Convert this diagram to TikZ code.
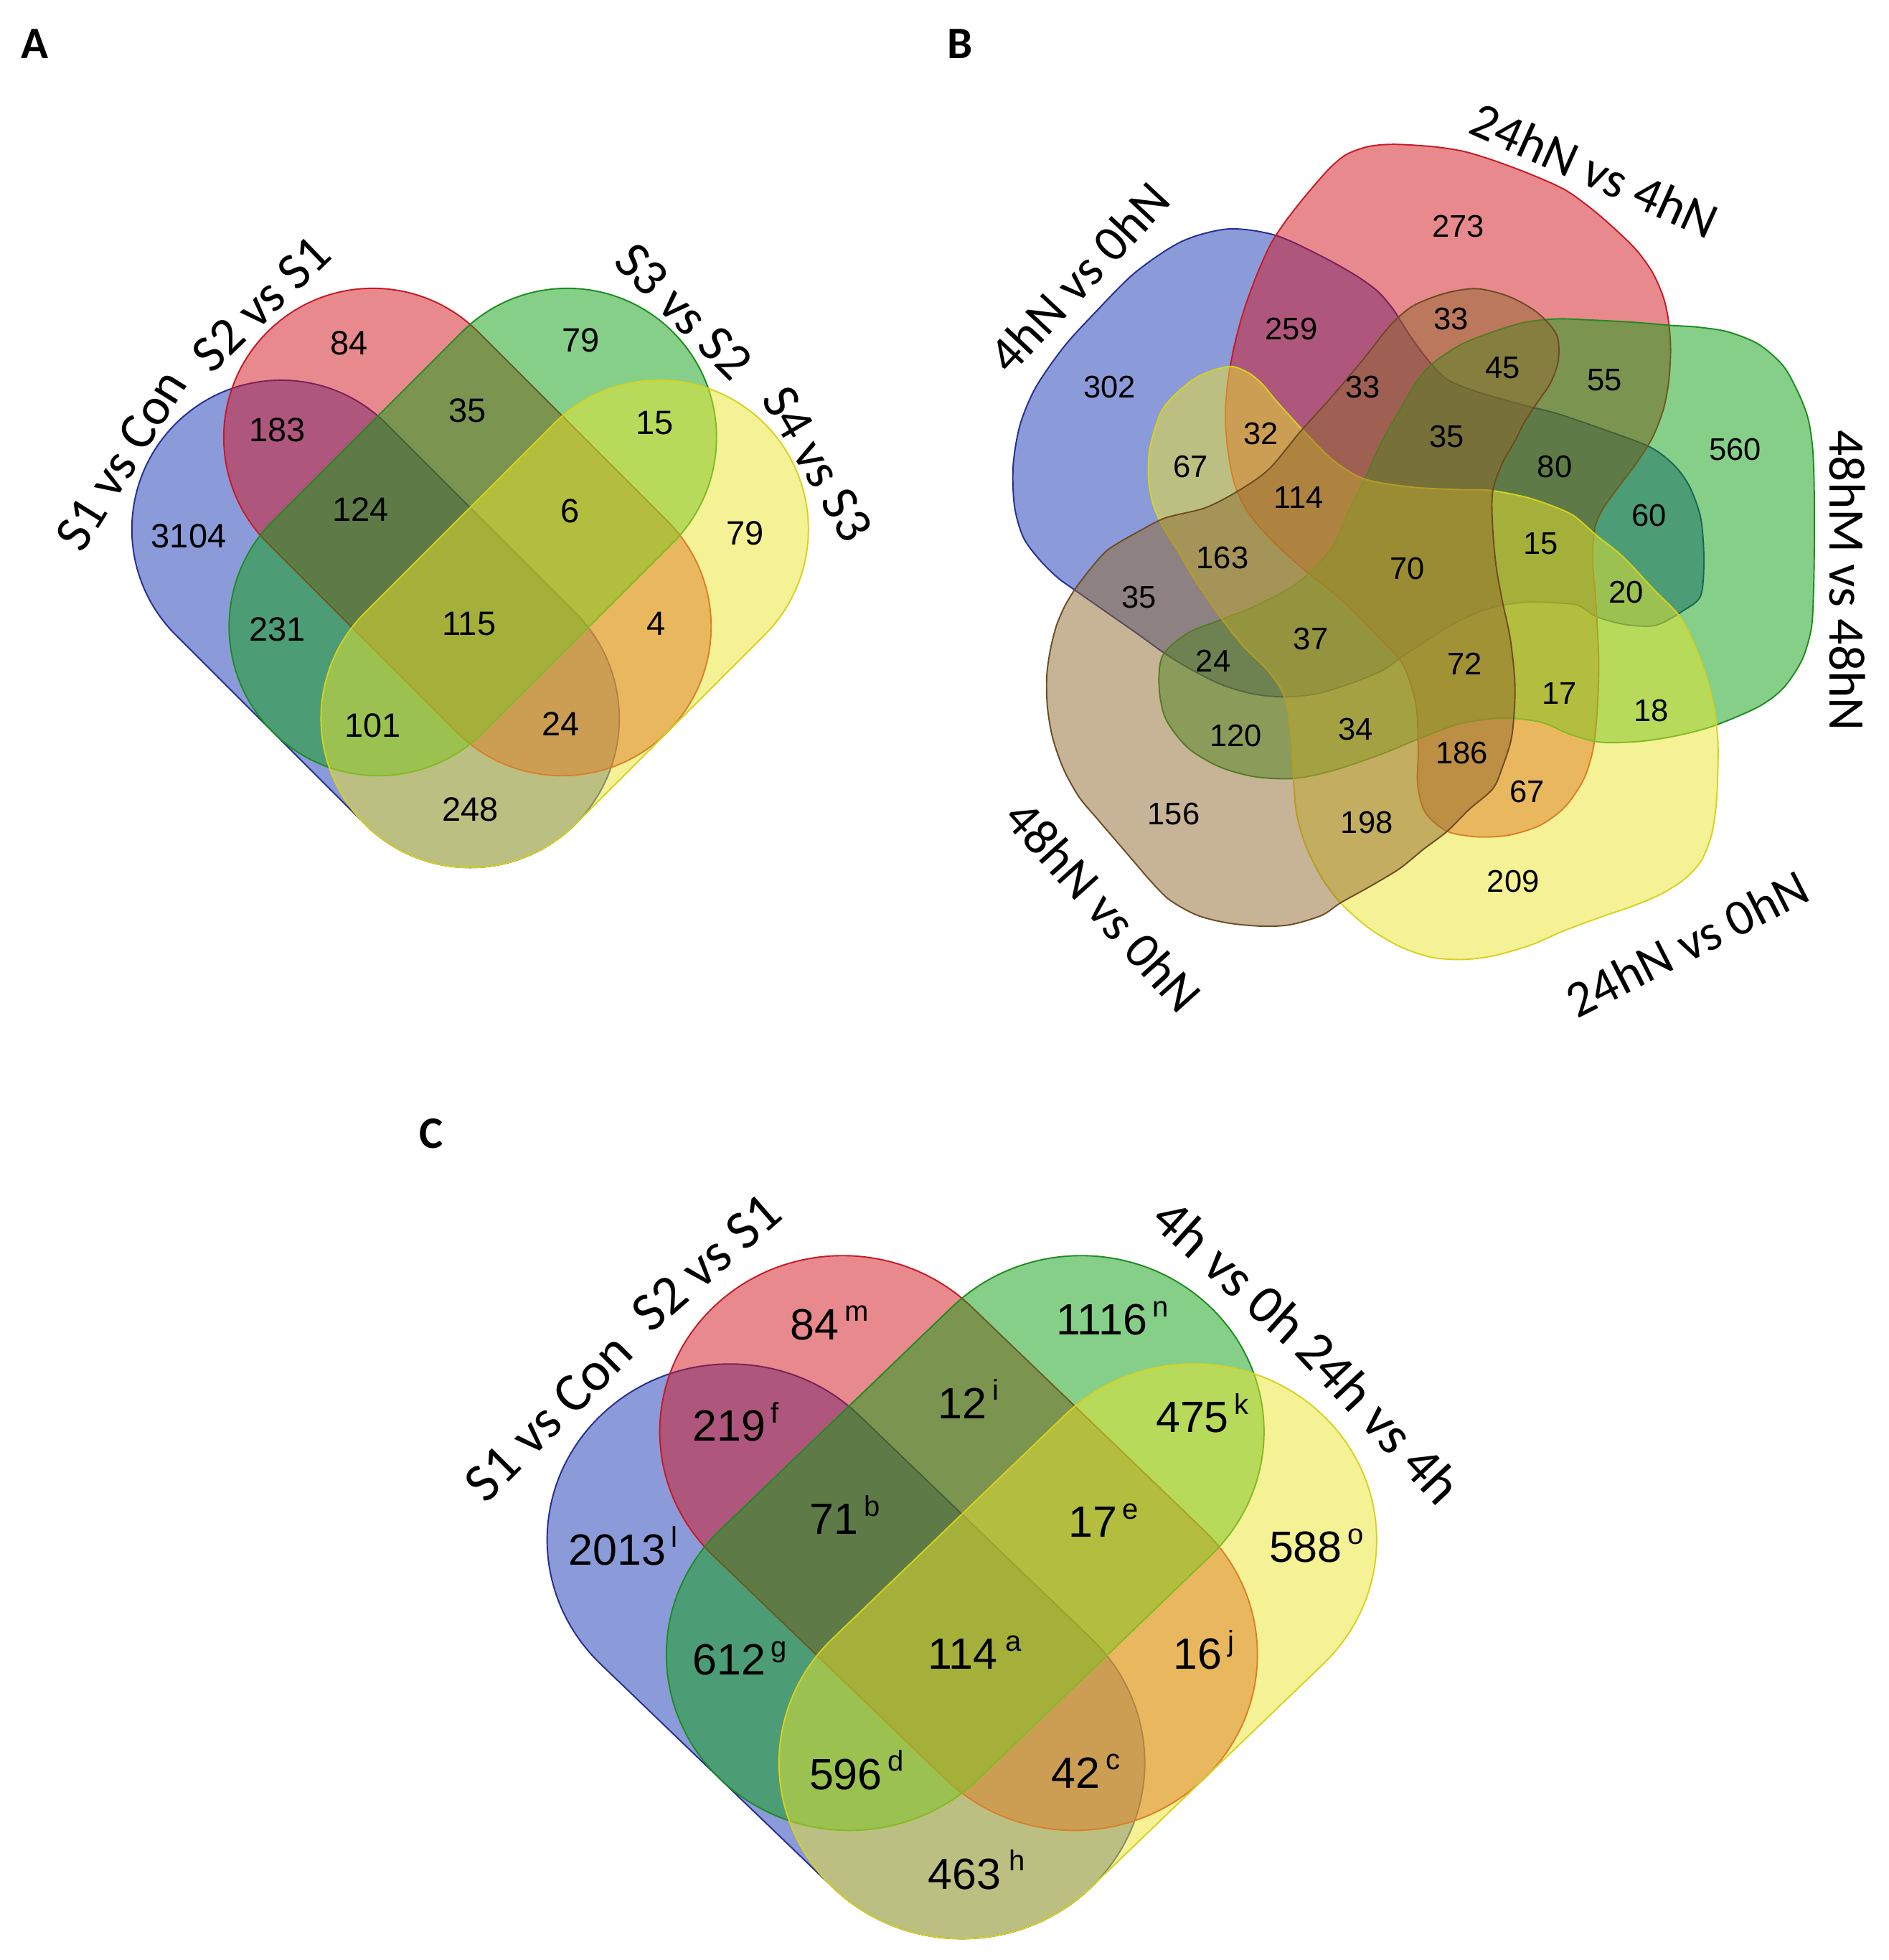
\documentclass[tikz,border=0pt]{standalone}
\usepackage{fontspec}
\setmainfont{Liberation Sans}
\newfontfamily\lblfont{Carlito}
\definecolor{vblue}{RGB}{25,55,180}
\definecolor{vblueD}{RGB}{35,45,150}
\definecolor{vred}{RGB}{210,20,30}
\definecolor{vredD}{RGB}{200,25,35}
\definecolor{vgreen}{RGB}{15,160,20}
\definecolor{vgreenD}{RGB}{30,140,30}
\definecolor{vyellow}{RGB}{235,230,45}
\definecolor{vyellowD}{RGB}{215,210,30}
\definecolor{vbrown}{RGB}{145,105,45}
\definecolor{vbrownD}{RGB}{110,75,35}
\tikzset{
  setblue/.style={fill=vblue, fill opacity=0.5, draw=vblueD, line width=1.1pt},
  setred/.style={fill=vred, fill opacity=0.5, draw=vredD, line width=1.1pt},
  setgreen/.style={fill=vgreen, fill opacity=0.5, draw=vgreenD, line width=1.1pt},
  setyellow/.style={fill=vyellow, fill opacity=0.5, draw=vyellowD, line width=1.1pt},
  setbrown/.style={fill=vbrown, fill opacity=0.5, draw=vbrownD, line width=1.1pt},
  numA/.style={font=\fontsize{27pt}{27pt}\selectfont, inner sep=0pt},
  numB/.style={font=\fontsize{25pt}{25pt}\selectfont, inner sep=0pt},
  numC/.style={font=\fontsize{35pt}{35pt}\selectfont, inner sep=0pt},
  supC/.style={font=\fontsize{23pt}{23pt}\selectfont, inner sep=0pt, anchor=base west},
  lblA/.style={font=\lblfont\fontsize{42pt}{42pt}\selectfont, inner sep=0pt},
  lblB/.style={font=\lblfont\fontsize{41pt}{41pt}\selectfont, inner sep=0pt},
  lblC/.style={font=\lblfont\fontsize{44pt}{44pt}\selectfont, inner sep=0pt},
  panel/.style={font=\lblfont\bfseries\fontsize{36pt}{36pt}\selectfont, inner sep=0pt},
  stadA/.style={rounded corners=119.3pt},
  stadC/.style={rounded corners=143.4pt}
}
\newcommand{\stadpath}{(-226.3,-119.3) -- (226.3,-119.3) -- (226.3,119.3) -- (-226.3,119.3) -- cycle}
\begin{document}
\begin{tikzpicture}[x=1pt,y=-1pt]
\useasboundingbox (0,0) rectangle (1511,1568);
\fill[white] (0,0) rectangle (1511,1568);

% ---------------- Panel A ----------------
\begin{scope}[shift={(376.1,230.6)}]
  \path[setblue, stadA, shift={(-75.65,268.5)}, rotate=-45] \stadpath;
  \path[setred, stadA, shift={(-2.15,195)}, rotate=-45] \stadpath;
  \path[setgreen, stadA, shift={(2.15,195)}, rotate=45] \stadpath;
  \path[setyellow, stadA, shift={(75.65,268.5)}, rotate=45] \stadpath;
\end{scope}
\node[panel] (pA) at (28,35) {A};
\node[lblA, rotate=58] (la1) at (97,368) {S1 vs Con};
\node[lblA, rotate=44] (la2) at (209,243) {S2 vs S1};
\node[lblA, rotate=-45] (la3) at (547,249) {S3 vs S2};
\node[lblA, rotate=-60] (la4) at (654,371) {S4 vs S3};
\node[numA] (a1) at (279.1,274.6) {84};
\node[numA] (a2) at (464.5,272.3) {79};
\node[numA] (a3) at (221.9,344.1) {183};
\node[numA] (a4) at (373.9,328.6) {35};
\node[numA] (a5) at (524.0,338.6) {15};
\node[numA] (a6) at (151.0,428.8) {3104};
\node[numA] (a7) at (288.3,407.3) {124};
\node[numA] (a8) at (456.2,408.6) {6};
\node[numA] (a9) at (596.3,426.5) {79};
\node[numA] (a10) at (221.9,503.4) {231};
\node[numA] (a11) at (375.2,498.8) {115};
\node[numA] (a12) at (524.9,498.8) {4};
\node[numA] (a13) at (298.4,580.2) {101};
\node[numA] (a14) at (448.4,578.9) {24};
\node[numA] (a15) at (376.1,647.5) {248};

% ---------------- Panel B ----------------
\begin{scope}[shift={(746.3,86.1)}, scale=0.2489]
  \path[setblue] plot[smooth cycle, tension=0.5] coordinates {
    (950,390) (1100,410) (1250,478) (1360,540) (1429,590) (1480,649) (1532,731) (1593,813)
    (1655,875) (1758,916) (1902,957) (2005,983) (2143,1030) (2303,1090) (2383,1150) (2433,1220)
    (2468,1320) (2478,1450) (2468,1568) (2413,1616) (2323,1664) (2223,1661) (2133,1636) (2075,1600)
    (2005,1592) (1902,1590) (1799,1606) (1696,1647) (1593,1709) (1501,1770) (1439,1812) (1336,1853)
    (1233,1884) (1130,1894) (1027,1884) (924,1853) (821,1801) (739,1750) (667,1698) (564,1626)
    (461,1554) (400,1510) (340,1450) (290,1380) (262,1280) (258,1150) (280,1020) (330,900)
    (420,770) (520,660) (650,530) (800,430)};
  \path[setred] plot[smooth cycle, tension=0.5] coordinates {
    (1480,118) (1603,125) (1703,140) (1803,170) (1923,215) (2033,265) (2123,330) (2203,400)
    (2263,460) (2313,530) (2348,610) (2365,690) (2371,780) (2365,880) (2348,970) (2313,1060)
    (2263,1140) (2203,1220) (2153,1290) (2128,1350) (2120,1450) (2130,1576) (2140,1776) (2136,1926)
    (2123,2056) (2093,2156) (2033,2246) (1953,2306) (1853,2338) (1753,2344) (1653,2326) (1583,2266)
    (1558,2176) (1560,2060) (1552,1915) (1511,1791) (1439,1709) (1316,1585) (1202,1493) (1099,1400)
    (1017,1307) (971,1215) (948,1100) (940,990) (948,880) (970,760) (1000,650) (1040,540)
    (1085,440) (1130,370) (1180,305) (1230,245) (1280,190) (1330,150) (1400,125)};
  \path[setgreen] plot[smooth cycle, tension=0.5] coordinates {
    (727,1863) (739,1760) (821,1688) (924,1647) (1027,1606) (1130,1554) (1202,1503) (1285,1410)
    (1336,1297) (1388,1194) (1439,1081) (1491,988) (1552,885) (1604,824) (1696,762) (1799,721)
    (1902,690) (2005,679) (2103,682) (2253,690) (2373,700) (2453,705) (2553,720) (2653,760)
    (2733,830) (2783,920) (2813,1000) (2828,1100) (2833,1250) (2833,1420) (2830,1570) (2823,1676)
    (2793,1776) (2733,1866) (2653,1926) (2513,1986) (2403,2016) (2283,2036) (2150,2040) (2050,2015)
    (1954,1975) (1830,1962) (1696,1980) (1563,2028) (1439,2079) (1285,2131) (1161,2156) (1038,2151)
    (924,2120) (821,2059) (749,1966)};
  \path[setyellow] plot[smooth cycle, tension=0.5] coordinates {
    (960,832) (1017,854) (1060,890) (1099,937) (1182,1029) (1285,1132) (1388,1194) (1542,1220)
    (1700,1228) (1789,1230) (1902,1251) (1990,1280) (2060,1312) (2133,1375) (2203,1430) (2263,1490)
    (2318,1550) (2393,1626) (2428,1686) (2463,1766) (2493,1856) (2513,1946) (2523,2036) (2523,2126)
    (2518,2236) (2503,2336) (2470,2420) (2415,2480) (2340,2528) (2250,2566) (2140,2604) (2030,2645)
    (1923,2691) (1803,2726) (1703,2738) (1603,2731) (1500,2696) (1400,2636) (1310,2556) (1250,2476)
    (1200,2376) (1170,2276) (1160,2176) (1151,2018) (1130,1894) (1079,1812) (996,1729) (924,1637)
    (852,1534) (791,1431) (740,1350) (708,1276) (693,1194) (698,1091) (739,968) (821,885) (890,848)};
  \path[setbrown] plot[smooth cycle, tension=0.5] coordinates {
    (462,1540) (425,1600) (397,1665) (378,1740) (366,1826) (368,1926) (385,2026) (420,2126)
    (470,2216) (530,2288) (590,2358) (650,2428) (700,2486) (760,2546) (850,2596) (950,2621)
    (1060,2631) (1150,2626) (1250,2596) (1310,2556) (1400,2506) (1500,2446) (1575,2385) (1653,2326)
    (1723,2256) (1799,2190) (1830,2121) (1861,2018) (1871,1863) (1856,1709) (1830,1585) (1810,1472)
    (1799,1348) (1799,1235) (1830,1143) (1871,1071) (1902,1009) (1943,947) (1985,885) (2010,813)
    (2005,731) (1943,659) (1851,607) (1748,582) (1645,597) (1542,638) (1470,700) (1388,803)
    (1285,926) (1182,1040) (1079,1163) (976,1235) (873,1287) (749,1318) (667,1359) (564,1420)
    (510,1478)};
\end{scope}
\node[panel] (pB) at (768,35) {B};
\node[lblB, rotate=-24] (lb1) at (1275.5,136.1) {24hN vs 4hN};
\node[lblB, rotate=47] (lb2) at (863.3,221.8) {4hN vs 0hN};
\node[lblB, rotate=-90] (lb3) at (1477.9,464.5) {48hM vs 48hN};
\node[lblB, rotate=-48] (lb4) at (882.9,724.9) {48hN vs 0hN};
\node[lblB, rotate=27] (lb5) at (1349.6,754.9) {24hN vs 0hN};
\node[numB] (b1) at (1166.7,181.3) {273};
\node[numB] (b2) at (1033.1,263.2) {259};
\node[numB] (b3) at (1160.8,255.1) {33};
\node[numB] (b4) at (1202.3,294.1) {45};
\node[numB] (b5) at (1283.7,304.1) {55};
\node[numB] (b6) at (887.7,309.8) {302};
\node[numB] (b7) at (1090.1,309.8) {33};
\node[numB] (b8) at (1008.7,346.9) {32};
\node[numB] (b9) at (1157.4,349.3) {35};
\node[numB] (b10) at (1388.1,359.8) {560};
\node[numB] (b11) at (1243.8,373.1) {80};
\node[numB] (b12) at (952.6,373.1) {67};
\node[numB] (b13) at (1038.9,397.9) {114};
\node[numB] (b14) at (1319.3,412.6) {60};
\node[numB] (b15) at (1232.5,435.0) {15};
\node[numB] (b16) at (978.0,446.4) {163};
\node[numB] (b17) at (1125.7,455.0) {70};
\node[numB] (b18) at (1300.8,474.0) {20};
\node[numB] (b19) at (911.1,477.8) {35};
\node[numB] (b20) at (1048.7,511.2) {37};
\node[numB] (b21) at (970.6,528.8) {24};
\node[numB] (b22) at (1171.6,531.2) {72};
\node[numB] (b23) at (1247.7,555.0) {17};
\node[numB] (b24) at (1320.8,568.3) {18};
\node[numB] (b25) at (988.7,588.3) {120};
\node[numB] (b26) at (1084.3,583.5) {34};
\node[numB] (b27) at (1169.6,602.6) {186};
\node[numB] (b28) at (1221.8,633.5) {67};
\node[numB] (b29) at (938.9,651.1) {156};
\node[numB] (b30) at (1093.5,658.3) {198};
\node[numB] (b31) at (1210.6,704.9) {209};

% ---------------- Panel C ----------------
\begin{scope}[shift={(769.5,1004.5)}, xscale=1.226, yscale=1.179]
  \path[setblue, stadC, shift={(-75.65,268.5)}, rotate=-45] \stadpath;
  \path[setred, stadC, shift={(-2.15,195)}, rotate=-45] \stadpath;
  \path[setgreen, stadC, shift={(2.15,195)}, rotate=45] \stadpath;
  \path[setyellow, stadC, shift={(75.65,268.5)}, rotate=45] \stadpath;
\end{scope}
\node[panel] (pC) at (345,907) {C};
\node[lblC, rotate=45] (lc1) at (438.9,1134.0) {S1 vs Con};
\node[lblC, rotate=41] (lc2) at (565.1,1009.9) {S2 vs S1};
\node[lblC, rotate=-42] (lc3) at (984.1,1016.7) {4h vs 0h};
\node[lblC, rotate=-47] (lc4) at (1103.3,1134.0) {24h vs 4h};
\node[numC] (c1) at (651.9,1059.5) {84};
\node[supC] (c1s) at ([xshift=4pt,yshift=-10pt]c1.north east) {m};
\node[numC] (c2) at (881.4,1055.9) {1116};
\node[supC] (c2s) at ([xshift=4pt,yshift=-10pt]c2.north east) {n};
\node[numC] (c3) at (770.0,1122.7) {12};
\node[supC] (c3s) at ([xshift=4pt,yshift=-10pt]c3.north east) {i};
\node[numC] (c4) at (583.3,1140.7) {219};
\node[supC] (c4s) at ([xshift=4pt,yshift=-10pt]c4.north east) {f};
\node[numC] (c5) at (953.9,1134.0) {475};
\node[supC] (c5s) at ([xshift=4pt,yshift=-10pt]c5.north east) {k};
\node[numC] (c6) at (667.3,1215.1) {71};
\node[supC] (c6s) at ([xshift=4pt,yshift=-10pt]c6.north east) {b};
\node[numC] (c7) at (874.3,1217.4) {17};
\node[supC] (c7s) at ([xshift=4pt,yshift=-10pt]c7.north east) {e};
\node[numC] (c8) at (493.8,1240.0) {2013};
\node[supC] (c8s) at ([xshift=4pt,yshift=-10pt]c8.north east) {l};
\node[numC] (c9) at (1044.5,1237.7) {588};
\node[supC] (c9s) at ([xshift=4pt,yshift=-10pt]c9.north east) {o};
\node[numC] (c10) at (583.3,1327.9) {612};
\node[supC] (c10s) at ([xshift=4pt,yshift=-10pt]c10.north east) {g};
\node[numC] (c11) at (770.0,1323.4) {114};
\node[supC] (c11s) at ([xshift=6pt,yshift=-10pt]c11.north east) {a};
\node[numC] (c12) at (958.3,1323.4) {16};
\node[supC] (c12s) at ([xshift=4pt,yshift=-10pt]c12.north east) {j};
\node[numC] (c13) at (676.6,1419.4) {596};
\node[supC] (c13s) at ([xshift=4pt,yshift=-10pt]c13.north east) {d};
\node[numC] (c14) at (860.6,1418.1) {42};
\node[supC] (c14s) at ([xshift=4pt,yshift=-10pt]c14.north east) {c};
\node[numC] (c15) at (771.6,1499.3) {463};
\node[supC] (c15s) at ([xshift=6pt,yshift=-10pt]c15.north east) {h};
\end{tikzpicture}
\end{document}
